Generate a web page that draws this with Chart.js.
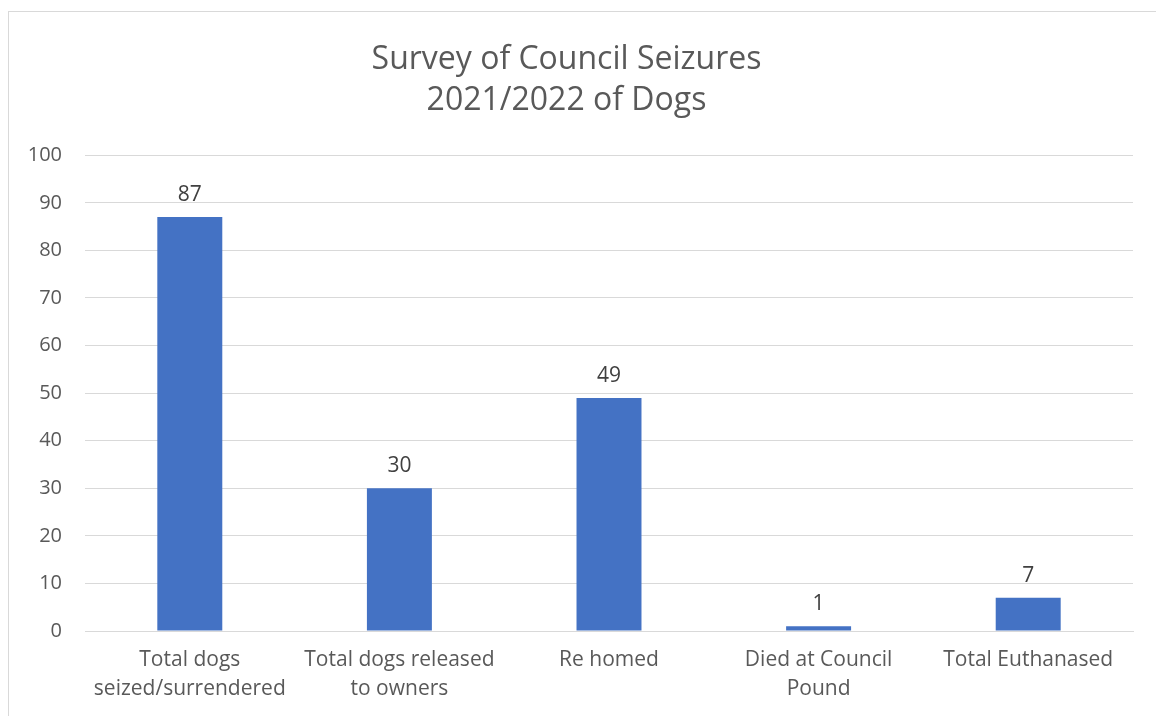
<!DOCTYPE html>
<html>
<head>
<meta charset="utf-8">
<script src="https://cdn.jsdelivr.net/npm/chart.js@4.4.1/dist/chart.umd.min.js"></script>
<style>
  html, body { margin: 0; padding: 0; background: #fff; }
  #wrap { position: relative; width: 1156px; height: 716px; overflow: hidden; }
  #frame { position: absolute; left: 8px; top: 11px; width: 1200px; height: 760px; border: 1px solid #d9d9d9; box-sizing: border-box; }
  canvas { position: absolute; left: 0; top: 0; }
</style>
</head>
<body>
<div id="wrap">
  <div id="frame"></div>
  <canvas id="chart" width="1156" height="716"></canvas>
</div>
<script>
const categories = [
    ['Total dogs', 'seized/surrendered'],
    ['Total dogs released', 'to owners'],
    'Re homed',
    ['Died at Council', 'Pound'],
    'Total Euthanased'
];
const dogCounts = [87, 30, 49, 1, 7];
const chartTitle = ['Survey of Council Seizures', '2021/2022 of Dogs'];

const FONT = '"Open Sans", Calibri, Lato, sans-serif';

// draws the number above each bar
const valueLabels = {
    id: 'valueLabels',
    afterDatasetsDraw(chart) {
        const ctx = chart.ctx;
        const meta = chart.getDatasetMeta(0);
        ctx.save();
        ctx.font = '21px ' + FONT;
        ctx.fillStyle = '#404040';
        ctx.textAlign = 'center';
        ctx.textBaseline = 'alphabetic';
        meta.data.forEach((bar, i) => {
            ctx.fillText(dogCounts[i], bar.x, bar.y - 16);
        });
        ctx.restore();
    }
};

new Chart(document.getElementById('chart'), {
    type: 'bar',
    data: {
        labels: categories,
        datasets: [{
            data: dogCounts,
            backgroundColor: '#4472c4',
            barPercentage: 0.62,
            categoryPercentage: 0.5
        }]
    },
    options: {
        responsive: false,
        animation: false,
        layout: { padding: { left: 0, right: 23, top: 0, bottom: 0 } },
        plugins: {
            legend: { display: false },
            tooltip: { enabled: false },
            title: {
                display: true,
                text: chartTitle,
                color: '#595959',
                font: { family: FONT, size: 32, weight: 'normal', lineHeight: 1.27 },
                padding: { top: 40, bottom: 34 }
            }
        },
        scales: {
            x: {
                grid: { display: false, drawTicks: false },
                border: { display: true, color: '#d9d9d9', width: 1 },
                ticks: {
                    color: '#595959',
                    font: { family: FONT, size: 21, lineHeight: 1.4 },
                    padding: 14,
                    maxRotation: 0,
                    autoSkip: false
                },
                afterFit(scale) { scale.height = 85; }
            },
            y: {
                min: 0,
                max: 100,
                grid: { color: '#d9d9d9', lineWidth: 1, drawTicks: false },
                border: { display: false },
                ticks: {
                    stepSize: 10,
                    color: '#595959',
                    font: { family: FONT, size: 20 },
                    padding: 23
                },
                afterFit(scale) { scale.width = 85; }
            }
        }
    },
    plugins: [valueLabels]
});
</script>
</body>
</html>
